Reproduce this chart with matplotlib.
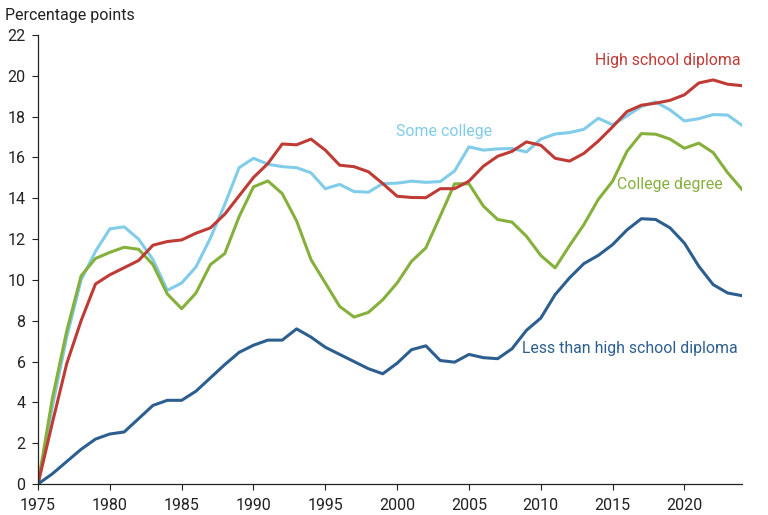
import matplotlib
matplotlib.use("Agg")
import matplotlib.pyplot as plt
import numpy as np

plt.rcParams["font.family"] = ["Roboto", "DejaVu Sans"]

years = np.arange(1975, 2025)

less_than_hs = [
    0.0, 0.5, 1.1, 1.7, 2.2, 2.45, 2.55, 3.2, 3.85, 4.1,
    4.1, 4.55, 5.2, 5.85, 6.45, 6.8, 7.05, 7.05, 7.6, 7.2,
    6.7, 6.35, 6.0, 5.65, 5.4, 5.92, 6.58, 6.77, 6.05, 5.97,
    6.35, 6.19, 6.14, 6.63, 7.53, 8.13, 9.28, 10.1, 10.8, 11.2,
    11.73, 12.45, 13.0, 12.96, 12.55, 11.8, 10.67, 9.77, 9.36, 9.23,
]
high_school = [
    0.0, 3.0, 5.9, 8.0, 9.8, 10.25, 10.6, 10.95, 11.7, 11.88,
    11.96, 12.29, 12.55, 13.22, 14.12, 15.02, 15.7, 16.66, 16.62, 16.9,
    16.36, 15.62, 15.55, 15.3, 14.72, 14.1, 14.04, 14.03, 14.47, 14.47,
    14.84, 15.57, 16.06, 16.3, 16.76, 16.6, 15.96, 15.82, 16.2, 16.8,
    17.5, 18.25, 18.56, 18.66, 18.8, 19.07, 19.65, 19.8, 19.59, 19.52,
]
some_college = [
    0.0, 3.8, 7.2, 10.0, 11.4, 12.5, 12.6, 12.0, 11.0, 9.49,
    9.85, 10.64, 12.05, 13.7, 15.5, 15.96, 15.67, 15.55, 15.5, 15.25,
    14.47, 14.68, 14.33, 14.3, 14.72, 14.74, 14.84, 14.78, 14.82, 15.34,
    16.52, 16.36, 16.42, 16.44, 16.27, 16.9, 17.15, 17.22, 17.38, 17.92,
    17.6, 18.04, 18.5, 18.72, 18.33, 17.79, 17.9, 18.1, 18.08, 17.58,
]
college = [
    0.0, 4.2, 7.5, 10.2, 11.05, 11.35, 11.6, 11.5, 10.75, 9.31,
    8.59, 9.36, 10.75, 11.29, 13.1, 14.56, 14.85, 14.23, 12.89, 11.0,
    9.85, 8.7, 8.18, 8.41, 9.03, 9.85, 10.91, 11.57, 13.13, 14.71,
    14.71, 13.62, 12.96, 12.83, 12.14, 11.2, 10.59, 11.68, 12.71, 13.94,
    14.84, 16.3, 17.17, 17.14, 16.9, 16.45, 16.7, 16.24, 15.26, 14.44,
]

C_RED = "#BF3B36"
C_LIGHT = "#80CCE9"
C_GREEN = "#86B03C"
C_DARK = "#2C5F8F"

fig = plt.figure(figsize=(7.68, 5.15), dpi=100)
ax = fig.add_axes([0.0495, 0.0602, 0.9165, 0.8718])

lw = 2.2
ax.plot(years, some_college, color=C_LIGHT, lw=lw)
ax.plot(years, college, color=C_GREEN, lw=lw)
ax.plot(years, high_school, color=C_RED, lw=lw)
ax.plot(years, less_than_hs, color=C_DARK, lw=lw)

ax.set_xlim(1975, 2024)
ax.set_ylim(0, 22)
ax.set_xticks(np.arange(1975, 2021, 5))
ax.set_yticks(np.arange(0, 23, 2))
ax.tick_params(axis="both", labelsize=11.5, direction="out", length=4, width=0.8,
               colors="#222222")
ax.tick_params(axis="x", pad=6)
ax.tick_params(axis="y", pad=5)
for s in ["top", "right"]:
    ax.spines[s].set_visible(False)
for s in ["left", "bottom"]:
    ax.spines[s].set_color("#222222")
    ax.spines[s].set_linewidth(0.9)

fig.text(0.006, 0.970, "Percentage points", fontsize=11.5, color="#222222",
         ha="left", va="center")

ax.text(2023.9, 20.75, "High school diploma", color=C_RED, fontsize=11.4,
        ha="right", va="center")
ax.text(2006.6, 17.28, "Some college", color=C_LIGHT, fontsize=11.4,
        ha="right", va="center")
ax.text(2022.7, 14.68, "College degree", color=C_GREEN, fontsize=11.4,
        ha="right", va="center")
ax.text(2023.7, 6.63, "Less than high school diploma", color=C_DARK, fontsize=11.4,
        ha="right", va="center")

fig.savefig("out.png", dpi=100)
